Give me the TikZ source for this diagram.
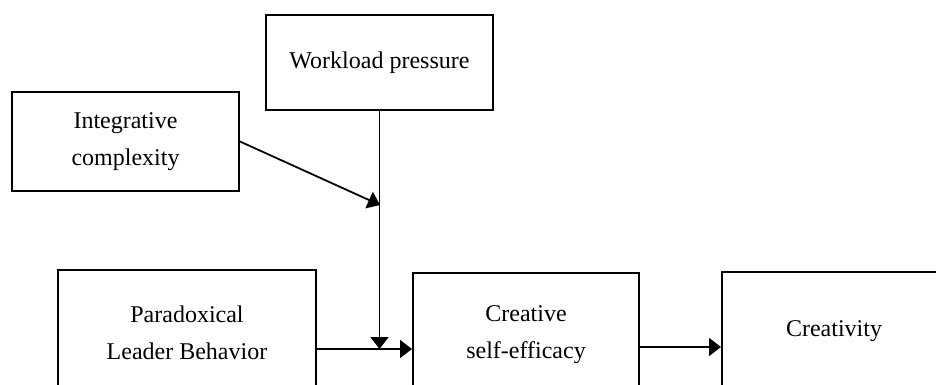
\documentclass[tikz,border=0pt]{standalone}
\usepackage{fontspec}
\setmainfont{Liberation Serif}
\usepackage{tikz}
\usetikzlibrary{arrows.meta}

\begin{document}
\begin{tikzpicture}[x=1pt,y=-1pt,
		box/.style={draw,line width=2pt,align=center,inner sep=0pt,font=\fontsize{24}{37}\selectfont},
		arr/.style={line width=1.8pt,-{Triangle[length=12pt,width=18pt]}}]
				\useasboundingbox (0,0) rectangle (936,384);
				\clip (0,0) rectangle (936,384);

				\node[box,minimum width=227pt,minimum height=95pt] (wp) at (379.5,62.5) {\raisebox{-2pt}{Workload pressure}};
				\node[box,minimum width=227pt,minimum height=99pt] (ic) at (125.5,141.5) {\raisebox{-3pt}{Integrative}\\\raisebox{-3pt}{complexity}};
				\node[box,minimum width=258pt,minimum height=126pt] (plb) at (187,333) {Paradoxical\\Leader Behavior};
				\node[box,minimum width=226pt,minimum height=124pt] (cse) at (526,335) {Creative\\self-efficacy};
				\node[box,minimum width=224pt,minimum height=118pt] (cr) at (834,331) {Creativity};

				\coordinate(m) at (381,349);
				\coordinate(k) at (380,205);

				\draw[arr] (plb.east |- m)--(cse.west |- m);
				\draw[arr] (wp.south)--(wp.south |- m);
				\draw[arr] (ic.east)--(k);
				\draw[arr] (cse.east |- 0,347)--(cr.west |- 0,347);

			\end{tikzpicture}
\end{document}
